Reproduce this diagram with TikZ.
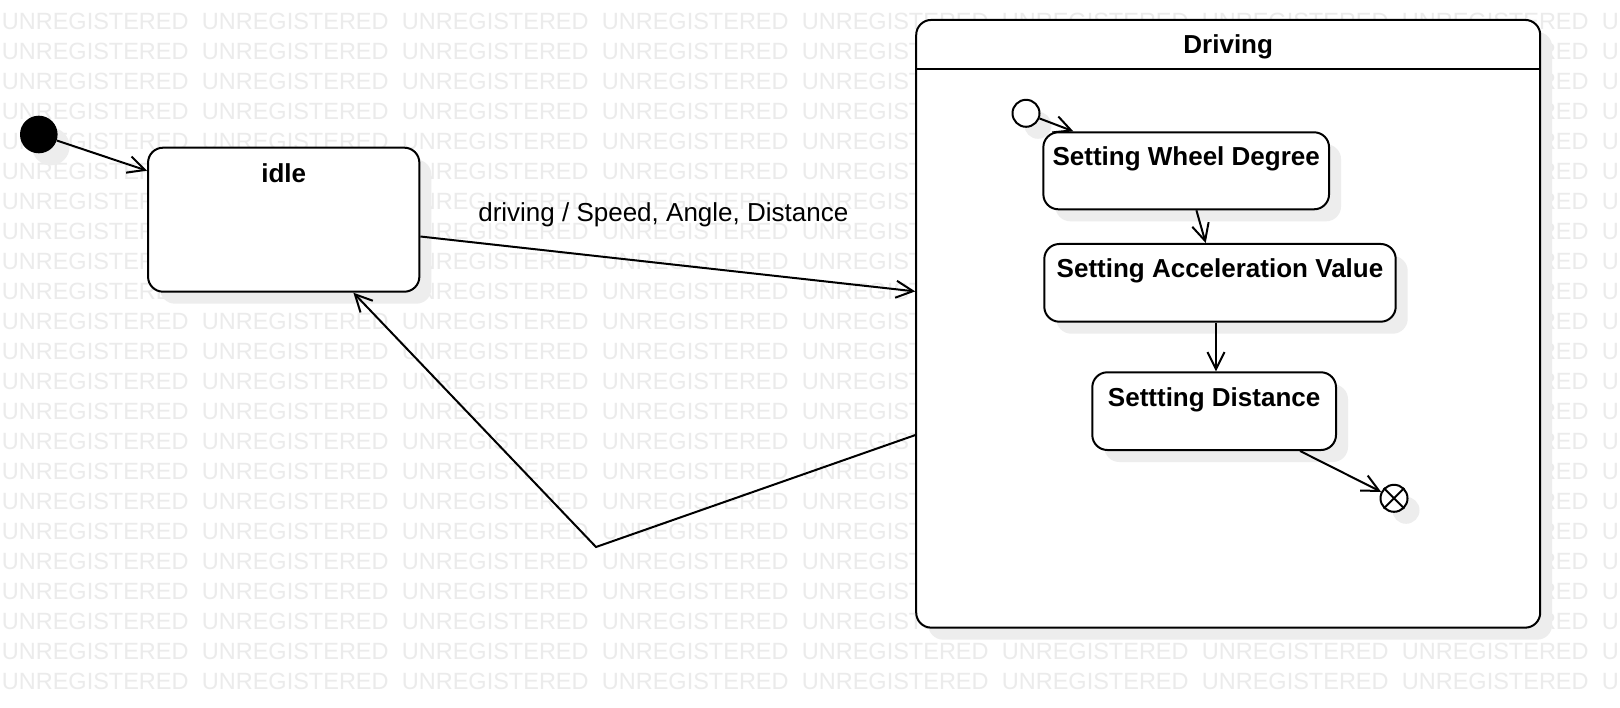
\documentclass[tikz,border=0pt]{standalone}
\usepackage{fontspec}
\setmainfont{Liberation Sans}
\usetikzlibrary{arrows.meta,shadows}

\tikzset{
	umlshadow/.style={drop shadow={opacity=1, fill=black!7, shadow xshift=12pt, shadow yshift=-12pt}},
	statebox/.style={draw, line width=2pt, rounded corners=15pt, fill=white, inner sep=0pt, umlshadow},
	statename/.style={anchor=base, inner sep=0pt, font=\fontsize{26}{31}\selectfont\bfseries},
	translabel/.style={anchor=base, inner sep=0pt, font=\fontsize{26}{31}\selectfont},
	trans/.style={line width=2pt, -{Straight Barb[length=17pt,width=17pt]}},
	watermark/.style={anchor=west, inner sep=0pt, text=black!8, font=\fontsize{23.5}{28}\selectfont},
	startdot/.style={circle, fill=black, inner sep=0pt, minimum size=37.6pt, umlshadow},
	substart/.style={circle, draw, line width=2pt, fill=white, inner sep=0pt, minimum size=27pt, umlshadow},
	finalstate/.style={circle, draw, line width=2pt, fill=white, inner sep=0pt, minimum size=27pt, umlshadow},
}

\begin{document}
\begin{tikzpicture}[x=1pt, y=-1pt]
			%%%%% START %%%%%
			\useasboundingbox (0, 0) rectangle (1620, 708);
			\fill[white] (0, 0) rectangle (1620, 708);
			
			% watermark
			\foreach \row in {0,...,22}
				\foreach \col in {0,...,8}
					\node[watermark] at ({1.7+200*\col}, {21+30*\row}) {UNREGISTERED};
			
			% idle
			\node[startdot] (start) at (38.8, 134.5) {};
			\node[statebox, minimum width=271.3pt, minimum height=144pt] (idle) at (283.7, 219.7) {};
			\node[statename] (idle-name) at ([yshift=-36pt]idle.north) {idle};
			
			% driving
			\node[statebox, minimum width=624pt, minimum height=607.7pt] (driving) at (1228.2, 323.8) {};
			\draw[line width=2pt] ([yshift=-50pt]driving.north west) -- ([yshift=-50pt]driving.north east);
			\node[statename] (driving-name) at ([yshift=-35pt]driving.north) {Driving};
			
			\node[substart] (substart) at (1026, 113.3) {};
			\node[statebox, minimum width=285.7pt, minimum height=77pt] (wheel) at (1186.2, 170.8) {};
			\node[statename] (wheel-name) at ([yshift=-34pt]wheel.north) {Setting Wheel Degree};
			\node[statebox, minimum width=351.4pt, minimum height=77.7pt] (accel) at (1220, 282.85) {};
			\node[statename] (accel-name) at ([yshift=-34.5pt]accel.north) {Setting Acceleration Value};
			\node[statebox, minimum width=243.7pt, minimum height=77.7pt] (dist) at (1214.15, 411.15) {};
			\node[statename] (dist-name) at ([yshift=-35pt]dist.north) {Settting Distance};
			\node[finalstate] (final) at (1394, 498.3) {};
			\draw[line width=2pt] (final.45) -- (final.225);
			\draw[line width=2pt] (final.135) -- (final.315);
			
			% transitions
			\draw[trans] (start) -- ([yshift=49pt]idle.west);
			\draw[trans] ([yshift=-16.8pt]idle.east) -- ([yshift=32.4pt]driving.west);
			\node[translabel] (driving-label) at (663.3, 221.5) {driving / Speed, Angle, Distance};
			\coordinate (back) at (596, 547);
			\draw[trans] ([yshift=-111.3pt]driving.west) -- (back) -- ([xshift=69.7pt]idle.south);
			
			\draw[trans] (substart) -- ([xshift=-112.9pt]wheel.north);
			\draw[trans] ([xshift=10.2pt]wheel.south) -- ([xshift=-14.3pt]accel.north);
			\draw[trans] ([xshift=-4pt]accel.south) -- ([xshift=-4pt]accel.south |- dist.north);
			\draw[trans] ([xshift=85.9pt]dist.south) -- (final);
			
			%%%%% END %%%%%
		\end{tikzpicture}
\end{document}
